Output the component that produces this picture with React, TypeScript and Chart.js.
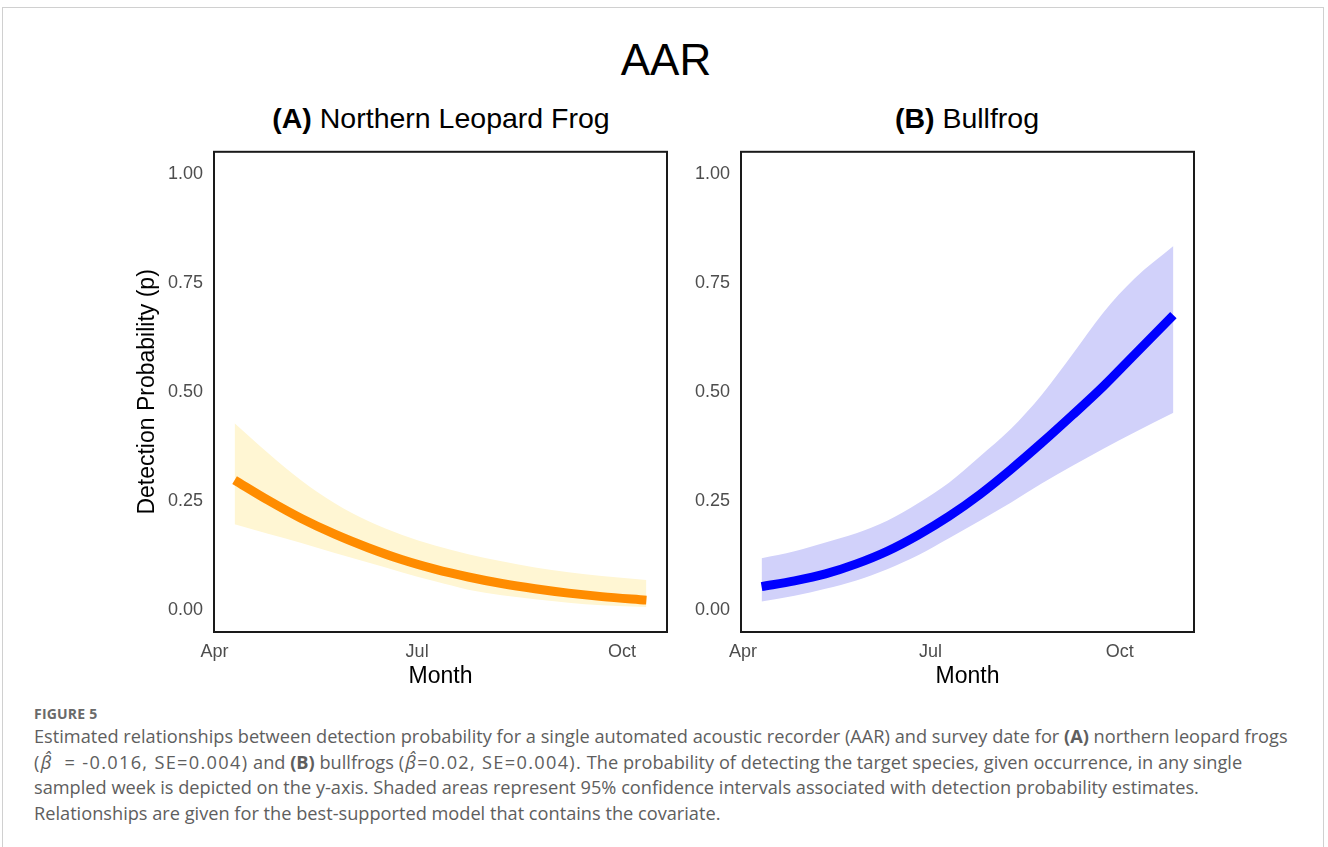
import React, { useEffect, useRef } from 'react';
import { Chart, registerables } from 'chart.js';

Chart.register(...registerables);

// Days counted from 1 April
const monthTickDays = [0, 91, 183];
const monthTickLabels = ['Apr', 'Jul', 'Oct'];
const probTicks = [0, 0.25, 0.5, 0.75, 1];

// (A) Northern Leopard Frog
const leopardDays = [9, 24, 39, 54, 69, 84, 99, 114, 129, 144, 159, 174, 194];
const leopardP = [0.298, 0.252, 0.210, 0.174, 0.143, 0.116, 0.094, 0.076, 0.061, 0.049, 0.039, 0.031, 0.023];
const leopardUpper = [0.428, 0.360, 0.297, 0.245, 0.204, 0.173, 0.148, 0.128, 0.112, 0.098, 0.087, 0.078, 0.069];
const leopardLower = [0.197, 0.175, 0.154, 0.131, 0.109, 0.087, 0.066, 0.047, 0.034, 0.025, 0.017, 0.011, 0.007];

// (B) Bullfrog
const bullDays = [9, 25, 40, 55, 70, 85, 100, 115, 130, 145, 160, 175, 190, 209];
const bullP = [0.054, 0.067, 0.083, 0.106, 0.135, 0.172, 0.215, 0.265, 0.322, 0.383, 0.447, 0.513, 0.585, 0.676];
const bullUpper = [0.119, 0.135, 0.155, 0.176, 0.205, 0.245, 0.292, 0.352, 0.415, 0.493, 0.586, 0.682, 0.759, 0.834];
const bullLower = [0.020, 0.033, 0.049, 0.068, 0.094, 0.126, 0.165, 0.205, 0.246, 0.290, 0.331, 0.370, 0.407, 0.452];

const FONT = '"Liberation Sans", Arial, sans-serif';

const framePlugin = {
  id: 'frame',
  afterDraw(chart: any) {
    const { ctx, chartArea: a } = chart;
    ctx.save();
    ctx.strokeStyle = '#1a1a1a';
    ctx.lineWidth = 2;
    ctx.strokeRect(a.left, a.top, a.right - a.left, a.bottom - a.top);
    ctx.restore();
  },
};

function pts(days: number[], vals: number[]) {
  return days.map((d, i) => ({ x: d, y: vals[i] }));
}

function makeConfig(opts: {
  days: number[];
  p: number[];
  lo: number[];
  hi: number[];
  color: string;
  band: string;
  xMin: number;
  xMax: number;
  yWidth: number;
  padRight: number;
  yTitle: boolean;
}): any {
  return {
    type: 'line',
    data: {
      datasets: [
        {
          data: pts(opts.days, opts.p),
          borderColor: opts.color,
          borderWidth: 9,
          pointRadius: 0,
          cubicInterpolationMode: 'monotone',
          fill: false,
          borderCapStyle: 'butt',
        },
        {
          data: pts(opts.days, opts.hi),
          borderWidth: 0,
          borderColor: 'rgba(0,0,0,0)',
          backgroundColor: opts.band,
          pointRadius: 0,
          cubicInterpolationMode: 'monotone',
          fill: '+1',
        },
        {
          data: pts(opts.days, opts.lo),
          borderWidth: 0,
          borderColor: 'rgba(0,0,0,0)',
          pointRadius: 0,
          cubicInterpolationMode: 'monotone',
          fill: false,
        },
      ],
    },
    options: {
      responsive: false,
      animation: false,
      devicePixelRatio: 1,
      layout: { padding: { left: 0, right: opts.padRight, top: 0, bottom: 0 } },
      plugins: { legend: { display: false }, tooltip: { enabled: false }, title: { display: false } },
      scales: {
        x: {
          type: 'linear',
          min: opts.xMin,
          max: opts.xMax,
          grid: { display: false, drawTicks: false },
          border: { display: false },
          afterBuildTicks: (scale: any) => {
            scale.ticks = monthTickDays.map((v) => ({ value: v }));
          },
          afterFit: (scale: any) => {
            scale.height = 68;
          },
          ticks: {
            autoSkip: false,
            maxRotation: 0,
            padding: 9,
            color: '#4d4d4d',
            font: { family: FONT, size: 18 },
            callback: (v: number) => monthTickLabels[monthTickDays.indexOf(v)],
          },
          title: {
            display: true,
            text: 'Month',
            color: '#000',
            font: { family: FONT, size: 23 },
            padding: { top: 0, bottom: 10 },
          },
        },
        y: {
          type: 'linear',
          min: -0.05,
          max: 1.05,
          grid: { display: false, drawTicks: false },
          border: { display: false },
          afterBuildTicks: (scale: any) => {
            scale.ticks = probTicks.map((v) => ({ value: v }));
          },
          afterFit: (scale: any) => {
            scale.width = opts.yWidth;
          },
          ticks: {
            padding: 11,
            color: '#4d4d4d',
            font: { family: FONT, size: 18 },
            callback: (v: number) => v.toFixed(2),
          },
          title: {
            display: opts.yTitle,
            text: 'Detection Probability (p)',
            color: '#000',
            font: { family: FONT, size: 23 },
            padding: { top: 134, bottom: 0 },
          },
        },
      },
    },
    plugins: [framePlugin],
  };
}

const CANVAS_TOP = 130;
const CANVAS_H = 570;

function Panel(props: { left: number; width: number; config: any }) {
  const ref = useRef<HTMLCanvasElement>(null);
  useEffect(() => {
    if (!ref.current) return;
    const chart = new Chart(ref.current, props.config);
    return () => chart.destroy();
  }, []);
  return (
    <canvas
      ref={ref}
      width={props.width}
      height={CANVAS_H}
      style={{ position: 'absolute', left: props.left, top: CANVAS_TOP, width: props.width, height: CANVAS_H }}
    />
  );
}

export default function App() {
  useEffect(() => {
    document.body.style.margin = '0';
  }, []);

  const cfgA = makeConfig({
    days: leopardDays,
    p: leopardP,
    lo: leopardLower,
    hi: leopardUpper,
    color: '#FF8C00',
    band: '#FFF6D3',
    xMin: -0.25,
    xMax: 203.25,
    yWidth: 214,
    padRight: 13,
    yTitle: true,
  });
  const cfgB = makeConfig({
    days: bullDays,
    p: bullP,
    lo: bullLower,
    hi: bullUpper,
    color: '#0000FF',
    band: '#D1D1FA',
    xMin: -1,
    xMax: 219,
    yWidth: 61,
    padRight: 134,
    yTitle: false,
  });

  const titleStyle: React.CSSProperties = {
    position: 'absolute',
    fontFamily: FONT,
    color: '#000',
    whiteSpace: 'nowrap',
    transform: 'translate(-50%, -50%)',
    lineHeight: 1,
  };

  const wide: React.CSSProperties = { letterSpacing: '1.3px' };

  return (
    <div style={{ position: 'relative', width: 1328, height: 847, overflow: 'hidden', background: '#fff' }}>
      <div
        style={{
          position: 'absolute',
          left: 2,
          top: 7,
          width: 1322,
          height: 860,
          border: '1px solid #d0d0d0',
          boxSizing: 'border-box',
        }}
      />
      <div style={{ ...titleStyle, left: 666, top: 60, fontSize: 44 }}>AAR</div>
      <div style={{ ...titleStyle, left: 441, top: 118, fontSize: 28.5 }}>
        <b>(A)</b> Northern Leopard Frog
      </div>
      <div style={{ ...titleStyle, left: 967, top: 118, fontSize: 28.5 }}>
        <b>(B)</b> Bullfrog
      </div>
      <Panel left={0} width={680} config={cfgA} />
      <Panel left={680} width={648} config={cfgB} />
      <div
        style={{
          position: 'absolute',
          left: 34,
          top: 704,
          fontFamily: '"Open Sans", sans-serif',
          fontWeight: 700,
          fontSize: 14,
          color: '#6a6a6a',
          letterSpacing: 0.2,
        }}
      >
        FIGURE 5
      </div>
      <div
        style={{
          position: 'absolute',
          left: 34,
          top: 724,
          fontFamily: '"Open Sans", sans-serif',
          fontSize: 18.2,
          lineHeight: '25.7px',
          color: '#5e5e5e',
          whiteSpace: 'nowrap',
        }}
      >
        Estimated relationships between detection probability for a single automated acoustic recorder (AAR) and survey date for <b>(A)</b> northern leopard frogs
        <br />
        <span style={wide}>(<i>β̂</i>&nbsp; = -0.016, SE=0.004)</span> and <b>(B)</b> bullfrogs <span style={wide}>(<i>β̂</i>=0.02, SE=0.004).</span> The probability of detecting the target species, given occurrence, in any single
        <br />
        sampled week is depicted on the y-axis. Shaded areas represent 95% confidence intervals associated with detection probability estimates.
        <br />
        Relationships are given for the best-supported model that contains the covariate.
      </div>
    </div>
  );
}
